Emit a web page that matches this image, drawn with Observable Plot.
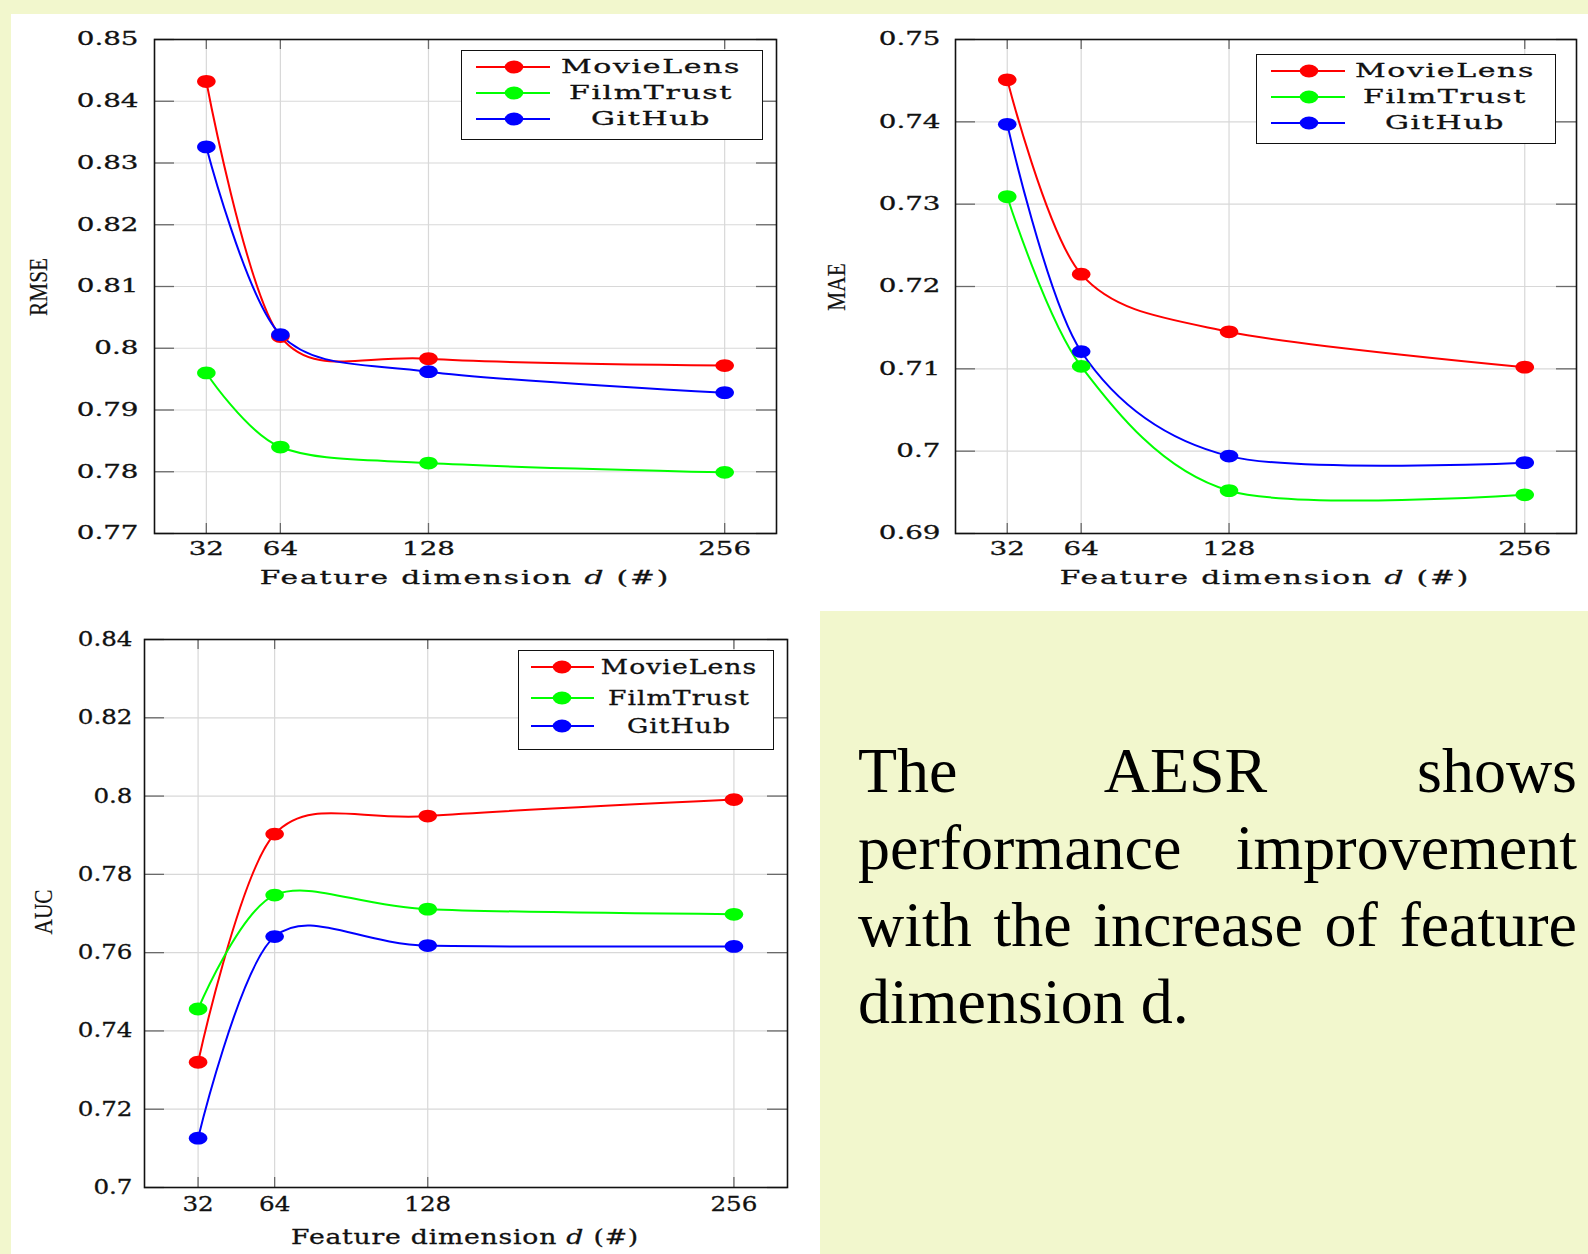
<!DOCTYPE html>
<html><head><meta charset="utf-8">
<script src="https://cdn.jsdelivr.net/npm/d3@7"></script>
<script src="https://cdn.jsdelivr.net/npm/@observablehq/plot@0.6"></script>
<style>
html,body{margin:0;padding:0;}
body{width:1588px;height:1254px;background:rgb(242,247,205);position:relative;overflow:hidden;}
.white{position:absolute;background:#fff;}
.lbl{position:absolute;white-space:nowrap;line-height:1;color:#111;font-family:"DejaVu Serif",serif;-webkit-text-stroke:0.3px #111;}
.ylbl{position:absolute;white-space:nowrap;line-height:1;color:#111;font-family:"Liberation Serif",serif;font-size:26px;-webkit-text-stroke:0.2px #111;}
.para{position:absolute;left:858px;top:732px;width:719px;font-family:"Liberation Serif","Times New Roman",serif;font-size:64px;line-height:77px;text-align:justify;color:#000;}
svg text{stroke:#111;stroke-width:0.3px;}
</style></head><body>
<div class="white" style="left:11px;top:14px;width:1577px;height:597px"></div>
<div class="white" style="left:11px;top:611px;width:809px;height:643px"></div>
<div id="root"></div>
<div class="para">The AESR shows performance improvement with the increase of feature dimension d.</div>
<script>
// ---- data ----
const dims = [32, 64, 128, 256];
const seriesNames = ["MovieLens", "FilmTrust", "GitHub"];
const seriesColors = ["#ff0000", "#00ff00", "#0000ff"];

const rmseMovieLens = [0.8432, 0.8019, 0.7983, 0.7972];
const rmseFilmTrust = [0.7960, 0.7840, 0.7814, 0.7799];
const rmseGitHub    = [0.8326, 0.8022, 0.7962, 0.7928];

const maeMovieLens = [0.7451, 0.7215, 0.7145, 0.7102];
const maeFilmTrust = [0.7309, 0.7103, 0.6952, 0.6947];
const maeGitHub    = [0.7397, 0.7121, 0.6994, 0.6986];

const aucMovieLens = [0.7320, 0.7903, 0.7949, 0.7991];
const aucFilmTrust = [0.7456, 0.7747, 0.7711, 0.7698];
const aucGitHub    = [0.7126, 0.7641, 0.7618, 0.7616];

const rmseTicks = [0.77, 0.78, 0.79, 0.8, 0.81, 0.82, 0.83, 0.84, 0.85];
const maeTicks  = [0.69, 0.7, 0.71, 0.72, 0.73, 0.74, 0.75];
const aucTicks  = [0.7, 0.72, 0.74, 0.76, 0.78, 0.8, 0.82, 0.84];
const xTickLabels = ["32", "64", "128", "256"];
const xLabel = "Feature dimension";

function rows(a, b, c) {
  const out = [];
  [a, b, c].forEach((vals, s) => vals.forEach((v, i) => out.push({d: dims[i], value: v, series: seriesNames[s]})));
  return out;
}

const ellipse = {
  draw(ctx, size) {
    const r = Math.sqrt(size / Math.PI);
    const rx = r * 1.45, ry = r, k = 0.5523;
    ctx.moveTo(rx, 0);
    ctx.bezierCurveTo(rx, k * ry, k * rx, ry, 0, ry);
    ctx.bezierCurveTo(-k * rx, ry, -rx, k * ry, -rx, 0);
    ctx.bezierCurveTo(-rx, -k * ry, -k * rx, -ry, 0, -ry);
    ctx.bezierCurveTo(k * rx, -ry, rx, -k * ry, rx, 0);
    ctx.closePath();
  }
};

const root = document.getElementById("root");

function chart(cfg) {
  const data = rows(...cfg.series);
  const fw = cfg.width - cfg.ml - cfg.mr;
  const fh = cfg.height - cfg.mt - cfg.mb;
  const svg = Plot.plot({
    width: cfg.width, height: cfg.height,
    marginLeft: cfg.ml, marginRight: cfg.mr, marginTop: cfg.mt, marginBottom: cfg.mb,
    style: {background: "transparent", fontFamily: "DejaVu Serif", fontSize: cfg.fs + "px", color: "#111", overflow: "visible"},
    x: {type: "linear", domain: [9.6, 278.4]},
    y: {domain: cfg.ydomain},
    color: {domain: seriesNames, range: seriesColors},
    marks: [
      Plot.gridY(cfg.ticks, {stroke: "#d8d8d8", strokeOpacity: 1, strokeWidth: 1.2}),
      Plot.gridX(dims, {stroke: "#d8d8d8", strokeOpacity: 1, strokeWidth: 1.2}),
      Plot.tickY(cfg.ticks, {y: d => d, insetRight: fw - 20, stroke: "#6a6a6a", strokeWidth: 1.3}),
      Plot.tickY(cfg.ticks, {y: d => d, insetLeft: fw - 20, stroke: "#6a6a6a", strokeWidth: 1.3}),
      Plot.tickX(dims, {x: d => d, insetTop: fh - 10, stroke: "#6a6a6a", strokeWidth: 1.3}),
      Plot.tickX(dims, {x: d => d, insetBottom: fh - 10, stroke: "#6a6a6a", strokeWidth: 1.3}),
      Plot.frame({stroke: "#111", strokeWidth: 1.6}),
      Plot.line(data, {x: "d", y: "value", z: "series", stroke: "series", strokeWidth: 2, curve: "cardinal", tension: 0.1}),
      Plot.dot(data, {x: "d", y: "value", fill: "series", stroke: "none", symbol: ellipse, r: cfg.r}),
      Plot.axisY(cfg.ticks, {tickSize: 0, tickPadding: cfg.ypad, tickFormat: d => String(d), label: null}),
      Plot.axisX(dims, {tickSize: 0, tickPadding: cfg.xpad, tickFormat: d => xTickLabels[dims.indexOf(d)], label: null})
    ]
  });
  svg.querySelectorAll('[aria-label="y-axis tick label"] text, [aria-label="x-axis tick label"] text').forEach(t => {
    const tr = t.getAttribute("transform");
    if (tr) t.setAttribute("transform", tr + ` scale(${cfg.sx},1)`);
  });
  svg.style.position = "absolute";
  svg.style.left = cfg.left + "px";
  svg.style.top = cfg.top + "px";
  root.appendChild(svg);
}

function legend(cfg) {
  const div = document.createElement("div");
  div.style.cssText = `position:absolute;left:${cfg.left}px;top:${cfg.top}px;width:${cfg.w}px;height:${cfg.h}px;border:1.6px solid #111;box-sizing:border-box;background:#fff;`;
  const ns = "http://www.w3.org/2000/svg";
  const s = document.createElementNS(ns, "svg");
  s.setAttribute("width", cfg.w); s.setAttribute("height", cfg.h);
  s.style.cssText = "position:absolute;left:-1.6px;top:-1.6px;overflow:visible";
  seriesNames.forEach((name, i) => {
    const y = cfg.rows[i];
    const ln = document.createElementNS(ns, "line");
    ln.setAttribute("x1", cfg.x1); ln.setAttribute("x2", cfg.x2);
    ln.setAttribute("y1", y); ln.setAttribute("y2", y);
    ln.setAttribute("stroke", seriesColors[i]); ln.setAttribute("stroke-width", 2);
    s.appendChild(ln);
    const el = document.createElementNS(ns, "ellipse");
    el.setAttribute("cx", cfg.xd); el.setAttribute("cy", y);
    el.setAttribute("rx", cfg.r * 1.45); el.setAttribute("ry", cfg.r);
    el.setAttribute("fill", seriesColors[i]);
    s.appendChild(el);
    const t = document.createElement("div");
    t.className = "lbl";
    t.textContent = name;
    t.style.cssText += `left:${cfg.xt - 1.6}px;top:${y - 1.6}px;font-size:${cfg.fs}px;letter-spacing:${cfg.ls}px;transform:translate(-50%,-50%) scaleX(${cfg.sx});`;
    div.appendChild(t);
  });
  div.insertBefore(s, div.firstChild);
  root.appendChild(div);
}

function xAxisLabel(cx, cy, fs, sx, ls) {
  const t = document.createElement("div");
  t.className = "lbl";
  t.innerHTML = `${xLabel} <i>d</i> (#)`;
  t.style.cssText += `left:${cx}px;top:${cy}px;font-size:${fs}px;letter-spacing:${ls}px;transform:translate(-50%,-50%) scaleX(${sx});`;
  root.appendChild(t);
}
function yAxisLabel(text, cx, cy) {
  const t = document.createElement("div");
  t.className = "ylbl";
  t.textContent = text;
  t.style.cssText += `left:${cx}px;top:${cy}px;transform:translate(-50%,-50%) rotate(-90deg) scaleX(0.82);`;
  root.appendChild(t);
}

// RMSE (top-left)
chart({series: [rmseMovieLens, rmseFilmTrust, rmseGitHub], ticks: rmseTicks, ydomain: [0.77, 0.85],
  left: 0, top: 0, width: 800, height: 611, ml: 154, mr: 24, mt: 39, mb: 78,
  fs: 18.5, sx: 1.5, ypad: 16, xpad: 8, r: 6.4});
legend({left: 461, top: 50, w: 302, h: 90, rows: [18, 44, 70], x1: 16, x2: 90, xd: 54, xt: 191, fs: 18.5, sx: 1.62, ls: 1, r: 6.4});
xAxisLabel(465, 578, 18.5, 1.6, 1.2);
yAxisLabel("RMSE", 38.5, 287);

// MAE (top-right)
chart({series: [maeMovieLens, maeFilmTrust, maeGitHub], ticks: maeTicks, ydomain: [0.69, 0.75],
  left: 800, top: 0, width: 788, height: 611, ml: 155, mr: 12, mt: 39, mb: 78,
  fs: 18.5, sx: 1.5, ypad: 15, xpad: 8, r: 6.4});
legend({left: 1256, top: 54, w: 300, h: 90, rows: [18, 44, 70], x1: 16, x2: 90, xd: 54, xt: 190, fs: 18.5, sx: 1.62, ls: 1, r: 6.4});
xAxisLabel(1265, 578, 18.5, 1.6, 1.2);
yAxisLabel("MAE", 837, 287);

// AUC (bottom-left)
chart({series: [aucMovieLens, aucFilmTrust, aucGitHub], ticks: aucTicks, ydomain: [0.7, 0.84],
  left: 0, top: 611, width: 820, height: 643, ml: 144, mr: 33, mt: 28, mb: 67,
  fs: 20.5, sx: 1.2, ypad: 12, xpad: 9, r: 6.4});
legend({left: 518, top: 650, w: 256, h: 100, rows: [18, 49, 77], x1: 14, x2: 77, xd: 45, xt: 162, fs: 20.5, sx: 1.3, ls: 0.8, r: 6.4});
xAxisLabel(465, 1237, 20.5, 1.3, 0.6);
yAxisLabel("AUC", 44, 912);
</script>
</body></html>
